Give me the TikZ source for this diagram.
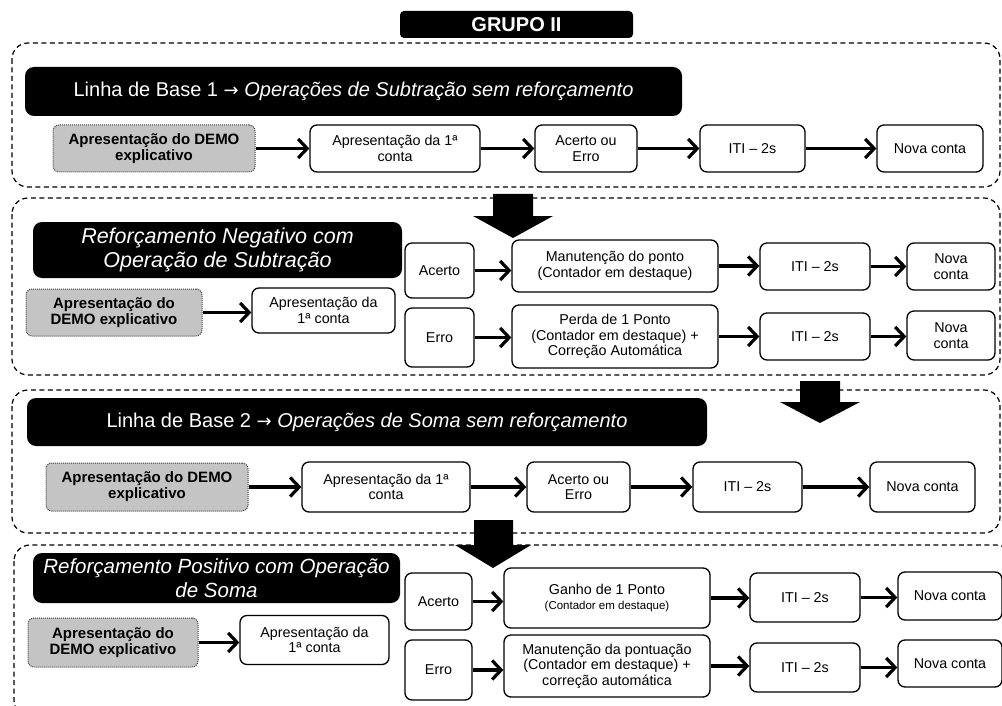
\documentclass[tikz,border=0pt]{standalone}
\usepackage{fontspec}
\setmainfont{Liberation Sans}
\newfontfamily\arrfont{DejaVu Sans}
\usetikzlibrary{arrows.meta}
\begin{document}
\begin{tikzpicture}[x=1pt,y=-1pt,
  sec/.style={draw, line width=1.2pt, rounded corners=16pt, dash pattern=on 5pt off 3.5pt},
  hdr/.style={fill=black, rounded corners=9pt, text=white, align=center, inner sep=0pt},
  wh/.style 2 args={minimum width=#1, minimum height=#2},
  bx/.style={draw, line width=1.3pt, rounded corners=7pt, fill=white, align=center, inner sep=0pt, font=\fontsize{14.3}{15.5}\selectfont},
  gbx/.style={draw=black!75, densely dotted, line width=1pt, fill=black!23, rounded corners=6pt, align=center, inner sep=0pt, font=\bfseries\fontsize{15}{16}\selectfont},
  arr/.style={line width=3.2pt, -{Straight Barb[length=9pt,width=19pt]}},
  bigarr/.style={fill=black}
]
\useasboundingbox (0,0) rectangle (1002,706);

% title
\node[fill=black, rounded corners=4pt, wh={233pt}{27pt}, text=white, font=\bfseries\fontsize{20}{21}\selectfont] (title) at (516.5,24.5) {GRUPO II};

% ---------- Section 1 ----------
\draw[sec] (12,43) rectangle (1000,187);
\node[hdr, wh={657pt}{49pt}, font=\fontsize{20}{22}\selectfont] (h1) at (353.5,91.5) {Linha de Base 1 {\arrfont\fontsize{18}{20}\selectfont →} \textit{Operações de Subtração sem reforçamento}};
\node[gbx, wh={202pt}{47pt}] (g1) at (154,148.5) {Apresentação do DEMO\\explicativo};
\node[bx, wh={170pt}{47pt}] (b1) at (395,148.5) {Apresentação da 1ª\\conta};
\node[bx, wh={102pt}{47pt}] (c1) at (586,148.5) {Acerto ou\\Erro};
\node[bx, wh={105pt}{47pt}] (i1) at (752.5,148.5) {ITI – 2s};
\node[bx, wh={106pt}{47pt}] (n1) at (930,148.5) {Nova conta};
\draw[arr] (g1) -- (b1);
\draw[arr] (b1) -- (c1);
\draw[arr] (c1) -- (i1);
\draw[arr] (i1) -- (n1);

% ---------- Section 2 ----------
\draw[sec] (12,198) rectangle (1000,375);
\node[hdr, wh={369pt}{56pt}, font=\itshape\fontsize{21.5}{24}\selectfont] (h2) at (217.5,250) {Reforçamento Negativo com\\Operação de Subtração};
\node[gbx, wh={176pt}{47pt}] (g2) at (114,312.5) {Apresentação do\\DEMO explicativo};
\node[bx, wh={143pt}{45pt}] (b2) at (323.5,310.5) {Apresentação da\\1ª conta};
\node[bx, wh={69pt}{55pt}] (a2) at (439.5,270.5) {Acerto};
\node[bx, wh={69pt}{59pt}] (e2) at (439.5,337.5) {Erro};
\node[bx, wh={206pt}{52pt}] (m2) at (615,266) {Manutenção do ponto\\(Contador  em destaque)};
\node[bx, wh={206pt}{63pt}] (p2) at (615,336.5) {Perda de 1 Ponto\\(Contador  em destaque) +\\Correção Automática};
\node[bx, wh={110pt}{47pt}] (ia2) at (815,266.5) {ITI – 2s};
\node[bx, wh={88pt}{47pt}] (na2) at (951,266.5) {Nova\\conta};
\node[bx, wh={110pt}{47pt}] (ie2) at (815,336.5) {ITI – 2s};
\node[bx, wh={88pt}{49pt}] (ne2) at (951,335.5) {Nova\\conta};
\draw[arr] (g2) -- (b2.west |- g2);
\draw[arr] (a2) -- (a2 -| m2.west);
\draw[arr] (e2) -- (e2 -| p2.west);
\draw[arr] (m2) -- (m2 -| ia2.west);
\draw[arr] (ia2) -- (ia2 -| na2.west);
\draw[arr] (p2) -- (p2 -| ie2.west);
\draw[arr] (ie2) -- (ie2 -| ne2.west);

% ---------- Section 3 ----------
\draw[sec] (12,390) rectangle (1000,533);
\node[hdr, wh={680pt}{48pt}, font=\fontsize{20}{22}\selectfont] (h3) at (367,422) {Linha de Base 2 {\arrfont\fontsize{18}{20}\selectfont →} \textit{Operações de Soma sem reforçamento}};
\node[gbx, wh={202pt}{48pt}] (g3) at (147,487) {Apresentação do DEMO\\explicativo};
\node[bx, wh={168pt}{50pt}] (b3) at (386,487) {Apresentação da 1ª\\conta};
\node[bx, wh={103pt}{50pt}] (c3) at (578.5,487) {Acerto ou\\Erro};
\node[bx, wh={109pt}{50pt}] (i3) at (747.5,487) {ITI – 2s};
\node[bx, wh={105pt}{50pt}] (n3) at (922.5,487) {Nova conta};
\draw[arr] (g3) -- (b3);
\draw[arr] (b3) -- (c3);
\draw[arr] (c3) -- (i3);
\draw[arr] (i3) -- (n3);

% ---------- Section 4 ----------
\draw[sec] (14,545) rectangle (1012,716);
\node[hdr, wh={367pt}{50pt}, font=\itshape\fontsize{20.5}{24}\selectfont] (h4) at (216.5,578) {Reforçamento Positivo com Operação\\de Soma};
\node[gbx, wh={170pt}{49pt}] (g4) at (113,642.5) {Apresentação do\\DEMO explicativo};
\node[bx, wh={149pt}{49pt}] (b4) at (314.5,640) {Apresentação da\\1ª conta};
\node[bx, wh={67pt}{57pt}] (a4) at (438.5,601.5) {Acerto};
\node[bx, wh={67pt}{60pt}] (e4) at (438.5,670) {Erro};
\node[bx, wh={206pt}{60pt}] (ga4) at (607,598) {Ganho de 1 Ponto\\{\fontsize{11.5}{14}\selectfont(Contador  em destaque)}};
\node[bx, wh={206pt}{62pt}] (me4) at (607,666) {Manutenção da pontuação\\(Contador em destaque) +\\correção automática};
\node[bx, wh={110pt}{49pt}] (ia4) at (805,597.5) {ITI – 2s};
\node[bx, wh={104pt}{48pt}] (na4) at (950,596) {Nova conta};
\node[bx, wh={110pt}{49pt}] (ie4) at (805,667.5) {ITI – 2s};
\node[bx, wh={104pt}{47pt}] (ne4) at (950,663.5) {Nova conta};
\draw[arr] (g4) -- (g4 -| b4.west);
\draw[arr] (a4) -- (a4 -| ga4.west);
\draw[arr] (e4) -- (e4 -| me4.west);
\draw[arr] (ga4) -- (ga4 -| ia4.west);
\draw[arr] (ia4) -- (ia4 -| na4.west);
\draw[arr] (me4) -- (me4 -| ie4.west);
\draw[arr] (ie4) -- (ie4 -| ne4.west);

% ---------- big arrows between sections ----------
\fill[bigarr] (493,194) -- (533,194) -- (533,216) -- (553,216) -- (513,238) -- (473,216) -- (493,216) -- cycle;
\fill[bigarr] (800,381) -- (840,381) -- (840,402) -- (860,402) -- (820,423) -- (780,402) -- (800,402) -- cycle;
\fill[bigarr] (474,520) -- (513,520) -- (513,545) -- (531,545) -- (493,568) -- (455,545) -- (474,545) -- cycle;
\end{tikzpicture}
\end{document}
